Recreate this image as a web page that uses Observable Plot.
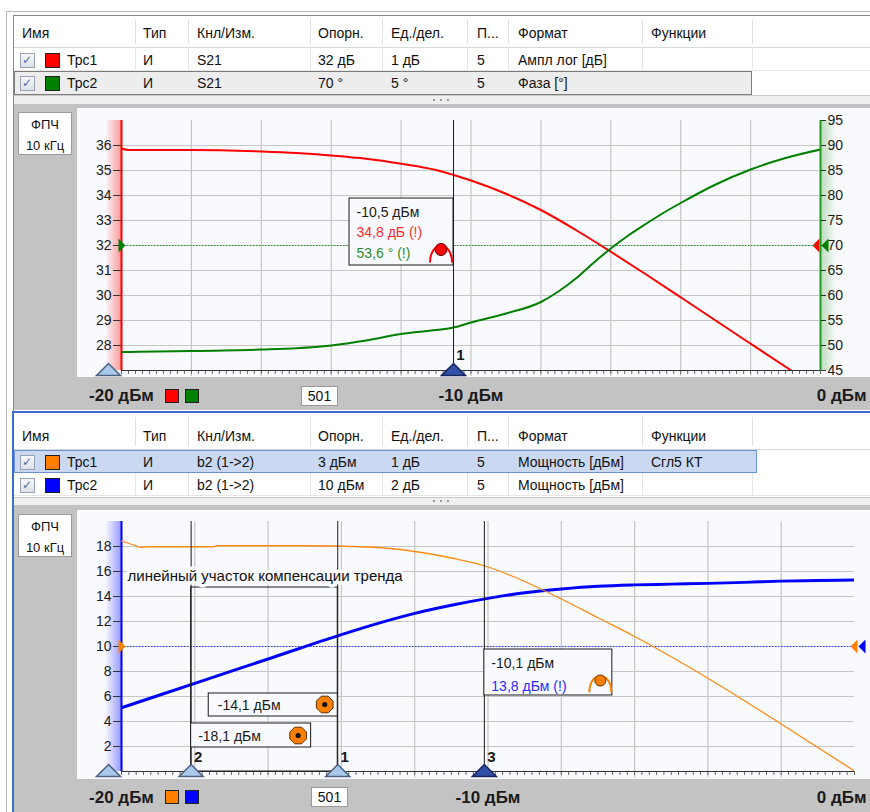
<!DOCTYPE html>
<html>
<head>
<meta charset="utf-8">
<script src="https://cdn.jsdelivr.net/npm/d3@7"></script>
<script src="https://cdn.jsdelivr.net/npm/@observablehq/plot@0.6"></script>
<style>
  html,body{margin:0;padding:0;background:#fff;}
  #root{position:relative;width:870px;height:812px;overflow:hidden;font-family:"Liberation Sans",Arial,sans-serif;color:#111;}
  #root div{position:absolute;box-sizing:border-box;}
  .t{font-size:14px;white-space:nowrap;line-height:18px;height:18px;}
</style>
</head>
<body>
<div id="root"></div>
<script>
// ================= DATA =================
const xDomain = [-20, 0];                         // stimulus power, dBm
const gridX = [-18, -16, -14, -12, -10, -8, -6, -4, -2];
const xAxisLabels = [-20, -10, 0];
const pointsCount = "501";
const ifbw = ["ФПЧ", "10 кГц"];
const tableHeaders = ["Имя", "Тип", "Кнл/Изм.", "Опорн.", "Ед./дел.", "П...", "Формат", "Функции"];

// ---- channel 1 (top) trace table ----
const ch1Names = ["Трс1", "Трс2"];
const ch1Colors = ["#ff0000", "#008000"];
const ch1Type = ["И", "И"];
const ch1Meas = ["S21", "S21"];
const ch1RefText = ["32 дБ", "70 °"];
const ch1ScaleText = ["1 дБ", "5 °"];
const ch1PosText = ["5", "5"];
const ch1Format = ["Ампл лог [дБ]", "Фаза [°]"];
const ch1Func = ["", ""];
const ch1Ref = [32, 70];
const ch1Scale = [1, 5];
const ch1LeftTicks = [28, 29, 30, 31, 32, 33, 34, 35, 36];
const ch1RightTicks = [45, 50, 55, 60, 65, 70, 75, 80, 85, 90, 95];

// Trc1: S21 log magnitude, dB
const trc1X = [-20, -19.8, -18, -16, -15, -14, -13, -12, -11, -10.5, -10, -9, -8, -7, -6, -5, -4, -3, -2, -1, 0];
const trc1Y = [35.88, 35.82, 35.82, 35.76, 35.7, 35.6, 35.47, 35.27, 35.02, 34.82, 34.6, 34.07, 33.42, 32.62, 31.75, 30.85, 29.93, 29.0, 28.07, 27.15, 26.25];
// Trc2: S21 phase, degrees
const trc2X = [-20, -19.5, -18, -16, -15, -14, -13, -12, -11, -10.5, -10, -9, -8, -7.5, -7, -6.5, -6, -5.5, -5, -4.5, -4, -3, -2, -1, 0];
const trc2Y = [48.7, 48.75, 48.9, 49.2, 49.45, 50.0, 51.0, 52.3, 53.1, 53.6, 54.6, 56.4, 58.7, 60.8, 63.4, 66.5, 69.4, 72.0, 74.3, 76.5, 78.5, 82.2, 85.2, 87.5, 89.2];

const ch1Markers = [{id: "1", x: -10.5, active: true}];
const ch1Readout = ["-10,5 дБм", "34,8 дБ (!)", "53,6 ° (!)"];

// ---- channel 2 (bottom) trace table ----
const ch2Names = ["Трс1", "Трс2"];
const ch2Colors = ["#ff8000", "#0000ff"];
const ch2Type = ["И", "И"];
const ch2Meas = ["b2 (1->2)", "b2 (1->2)"];
const ch2RefText = ["3 дБм", "10 дБм"];
const ch2ScaleText = ["1 дБ", "2 дБ"];
const ch2PosText = ["5", "5"];
const ch2Format = ["Мощность [дБм]", "Мощность [дБм]"];
const ch2Func = ["Сгл5 КТ", ""];
const ch2Ref = [3, 10];
const ch2Scale = [1, 2];
const ch2LeftTicks = [2, 4, 6, 8, 10, 12, 14, 16, 18];

// Trc1 (orange): b2 power, dBm (own scale)
const trc3X = [-20, -19.65, -19.45, -19.3, -17.5, -17.4, -15, -13.3, -12, -11, -10.1, -9.2, -8, -7, -6, -4, -2, 0];
const trc3Y = [7.22, 7.05, 6.96, 6.99, 6.99, 7.03, 7.03, 6.98, 6.8, 6.54, 6.23, 5.73, 4.9, 4.15, 3.4, 1.73, -0.1, -1.98];
// Trc2 (blue): b2 power, dBm
const trc4X = [-20, -18, -16, -14, -13, -12, -11, -10, -9, -8, -7, -6, -5, -4, -3, -2, -1, 0];
const trc4Y = [5.1, 7.05, 9.0, 10.95, 11.85, 12.65, 13.3, 13.85, 14.3, 14.6, 14.82, 14.93, 14.99, 15.05, 15.13, 15.23, 15.28, 15.32];

const ch2Markers = [
  {id: "2", x: -18.1, active: false},
  {id: "1", x: -14.1, active: false},
  {id: "3", x: -10.1, active: true}
];
const ch2Readouts = {"1": ["-14,1 дБм"], "2": ["-18,1 дБм"], "3": ["-10,1 дБм", "13,8 дБм (!)"]};
const trendLabel = "линейный участок компенсации тренда";
const trendSpan = ["2", "1"];

// ================= LAYOUT / STYLE =================
const root = document.getElementById("root");
const px = v => v + "px";
function div(x, y, w, h, extra = {}) {
  const d = document.createElement("div");
  Object.assign(d.style, {left: px(x), top: px(y), width: px(w), height: px(h)}, extra);
  root.appendChild(d);
  return d;
}
function label(x, yc, s, extra = {}) {
  const d = document.createElement("div");
  d.className = "t";
  Object.assign(d.style, {left: px(x), top: px(yc - 9)}, extra);
  d.textContent = s;
  root.appendChild(d);
  return d;
}
const plotBg = "#f9fafd";
const panelGray = "#c3c3c3";
const gridColor = "#c6c6c6";
const font = "'Liberation Sans', Arial, sans-serif";

// window frame
div(6, 11, 864, 801, {borderLeft: "1px solid #b8b8b8", borderTop: "1px solid #b8b8b8"});
div(13, 15, 857, 396, {borderLeft: "1px solid #8a8a8a", borderTop: "1px solid #8a8a8a"});

const colSep = [135, 188, 310, 382, 467, 508, 642, 752];
const colText = [143, 197, 318, 391, 477, 518, 651];

function table(t) {
  colSep.forEach(x => div(x, t.top + 3, 1, t.headerLine - t.top - 6, {background: "#e2e2e2"}));
  div(14, t.headerLine, 856, 1, {background: "#d9d9d9"});
  label(22, t.headerC, tableHeaders[0]);
  tableHeaders.slice(1).forEach((h, i) => label(colText[i], t.headerC, h));
  t.rows.forEach((r, i) => {
    const sel = i === t.selected;
    if (sel) {
      div(14, r.top, t.selW, r.h, {background: t.selBg, border: "1px solid " + t.selBorder});
      colSep.filter(x => x > t.selW + 14).forEach(x => div(x, r.top, 1, r.h, {background: "#e6e6e6"}));
    } else {
      colSep.forEach(x => div(x, r.top, 1, r.h, {background: "#e6e6e6"}));
      div(14, r.top + r.h - 1, 856, 1, {background: "#e6e6e6"});
    }
    const c = r.top + r.h / 2;
    div(20, c - 7, 15, 15, {border: "1px solid #98a2b3", background: "linear-gradient(#f6f7f9,#dde1e8)"});
    label(22, c, "✓", {fontSize: "12px", color: "#4a68a8", fontFamily: "DejaVu Sans"});
    div(45, c - 7, 15, 15, {background: t.colors[i], border: "1px solid #202020"});
    label(67, c, t.names[i]);
    const vals = [t.type[i], t.meas[i], t.ref[i], t.scale[i], t.pos[i], t.format[i], t.func[i]];
    vals.forEach((v, k) => label(colText[k], c, v));
  });
  div(14, t.stripTop, 856, t.stripH, {background: "#efefef", borderTop: "1px solid #cacaca"});
  [433, 440, 447].forEach(x => div(x, t.stripTop + t.stripH / 2 - 1, 2, 2, {background: "#9a9a9a"}));
}

// ----- top table -----
table({
  top: 16, headerC: 33, headerLine: 47,
  rows: [{top: 48, h: 23}, {top: 71, h: 24}], selected: 1, selW: 738,
  selBg: "#ededed", selBorder: "#7c7c7c",
  names: ch1Names, colors: ch1Colors, type: ch1Type, meas: ch1Meas, ref: ch1RefText,
  scale: ch1ScaleText, pos: ch1PosText, format: ch1Format, func: ch1Func,
  stripTop: 95, stripH: 9
});

// ----- top chart panel -----
div(14, 104, 856, 306, {background: panelGray});
div(77, 108, 793, 269, {background: plotBg});
div(18, 112, 54, 43, {background: "#fff", border: "1px solid #9c9c9c"});
label(18, 125, ifbw[0], {width: "54px", textAlign: "center", fontSize: "13px"});
label(18, 146, ifbw[1], {width: "54px", textAlign: "center", fontSize: "13px"});

// ----- bottom (active) panel -----
div(12, 411, 858, 2, {background: "#3d6fcf"});
div(12, 411, 2, 401, {background: "#3d6fcf"});
table({
  top: 414, headerC: 436, headerLine: 449,
  rows: [{top: 450, h: 23}, {top: 473, h: 23}], selected: 0, selW: 743,
  selBg: "#cad8f1", selBorder: "#6f8fd3",
  names: ch2Names, colors: ch2Colors, type: ch2Type, meas: ch2Meas, ref: ch2RefText,
  scale: ch2ScaleText, pos: ch2PosText, format: ch2Format, func: ch2Func,
  stripTop: 497, stripH: 8
});
div(14, 505, 856, 307, {background: panelGray});
div(77, 510, 793, 269, {background: plotBg});
div(18, 514, 54, 43, {background: "#fff", border: "1px solid #9c9c9c"});
label(18, 527, ifbw[0], {width: "54px", textAlign: "center", fontSize: "13px"});
label(18, 548, ifbw[1], {width: "54px", textAlign: "center", fontSize: "13px"});

// ================= PLOTS =================
const sym = draw => ({draw});
const triUp = sym(c => { c.moveTo(0, -6); c.lineTo(12, 6); c.lineTo(-12, 6); c.closePath(); });
const triRight = sym(c => { c.moveTo(4, 0); c.lineTo(-3, -7); c.lineTo(-3, 7); c.closePath(); });
const triLeft = sym(c => { c.moveTo(-4, 0); c.lineTo(3, -7); c.lineTo(3, 7); c.closePath(); });
const archSym = sym(c => { c.moveTo(-11, 8); c.bezierCurveTo(-11, -14, 11, -14, 11, 8); });
const octSym = sym(c => {
  for (let i = 0; i < 8; i++) {
    const a = Math.PI / 8 + i * Math.PI / 4, X = 9 * Math.cos(a), Y = 9 * Math.sin(a);
    if (i) c.lineTo(X, Y); else c.moveTo(X, Y);
  }
  c.closePath();
});
const st = {background: "transparent", fontFamily: font, fontSize: "14px", overflow: "visible", color: "#1a1a1a"};
const zip = (X, Y) => X.map((x, i) => ({x, y: Y[i]}));
const domainOf = (ref, scale) => [ref - 5 * scale, ref + 5 * scale];
const minorTicks = d3.range(xDomain[0], xDomain[1] + 1e-9, 0.2);
const fmtX = d => `${d} дБм`;
const MID = {lineAnchor: "middle"};
const markerMarks = (markers, dyLabel) => [
  Plot.dot([xDomain[0]], {x: d => d, frameAnchor: "bottom", symbol: triUp, r: 6, fill: "#a9c8ea", stroke: "#4d5f80", dx: -13, dy: -1}),
  Plot.dot(markers.filter(m => !m.active), {x: "x", frameAnchor: "bottom", symbol: triUp, r: 6, fill: "#a9c8ea", stroke: "#4d5f80", dy: -1}),
  Plot.dot(markers.filter(m => m.active), {x: "x", frameAnchor: "bottom", symbol: triUp, r: 6, fill: "#2f4fa8", stroke: "#17245c", dy: -1}),
  Plot.text(markers, {x: "x", text: "id", frameAnchor: "bottom", ...MID, dx: 7, dy: dyLabel, fontWeight: "bold", fontSize: 15, fill: "#1a1a1a"})
];

// ---------- top chart ----------
const topDims = {width: 793, height: 302, marginLeft: 44, marginRight: 50, marginTop: 12, marginBottom: 40};
const dom1 = domainOf(ch1Ref[0], ch1Scale[0]);
const dom2 = domainOf(ch1Ref[1], ch1Scale[1]);

const plotA = Plot.plot({
  ...topDims, style: st,
  x: {domain: xDomain},
  y: {domain: dom1},
  marks: [
    Plot.ruleX(gridX, {stroke: gridColor, strokeWidth: 1.2}),
    Plot.ruleY(ch1LeftTicks, {stroke: gridColor, strokeWidth: 1.2}),
    Plot.axisX(gridX, {tickSize: 6, stroke: gridColor, strokeWidth: 1.2, fill: "none", label: null}),
    Plot.axisX(minorTicks, {tickSize: 4, stroke: "#666", fill: "none", label: null}),
    Plot.ruleY([dom1[0]], {stroke: "#333"}),
    Plot.axisY(ch1LeftTicks, {tickSize: 8, tickPadding: 2, stroke: "#333", fill: "#1a1a1a", label: null, fontSize: 14}),
    Plot.line(zip(trc1X, trc1Y), {x: "x", y: "y", stroke: ch1Colors[0], strokeWidth: 2, curve: "monotone-x", clip: true}),
    Plot.ruleX([xDomain[0]], {stroke: ch1Colors[0], strokeWidth: 2}),
    Plot.dot([{x: xDomain[1], y: ch1Ref[0]}], {x: "x", y: "y", symbol: triLeft, r: 6, fill: ch1Colors[0], dx: -4}),
    Plot.text(xAxisLabels.slice(0, 2), {x: d => d, text: fmtX, frameAnchor: "bottom", ...MID, dy: 25, fontSize: 17, fontWeight: "bold", fill: "#1a1a1a"}),
    Plot.text(xAxisLabels.slice(2), {x: d => d, text: fmtX, frameAnchor: "bottom", ...MID, dy: 25, dx: 46, textAnchor: "end", fontSize: 17, fontWeight: "bold", fill: "#1a1a1a"})
  ]
});

const plotB = Plot.plot({
  ...topDims, style: st,
  x: {domain: xDomain, axis: null},
  y: {domain: dom2},
  marks: [
    Plot.ruleY([ch1Ref[1]], {stroke: "#2f8f2f", strokeDasharray: "1.5,1.5"}),
    Plot.line(zip(trc2X, trc2Y), {x: "x", y: "y", stroke: ch1Colors[1], strokeWidth: 2, curve: "monotone-x", clip: true}),
    Plot.ruleX([xDomain[1]], {stroke: "#1f9a1f", strokeWidth: 2}),
    Plot.axisY(ch1RightTicks, {anchor: "right", tickSize: 5, tickPadding: 2, stroke: "#333", fill: "#1a1a1a", label: null, fontSize: 14}),
    Plot.dot([{x: xDomain[0], y: ch1Ref[1]}], {x: "x", y: "y", symbol: triRight, r: 6, fill: ch1Colors[1]}),
    Plot.dot([{x: xDomain[1], y: ch1Ref[1]}], {x: "x", y: "y", symbol: triLeft, r: 6, fill: ch1Colors[1], dx: 5}),
    Plot.ruleX(ch1Markers, {x: "x", stroke: "#1a1a1a"}),
    Plot.rect(ch1Markers, {x1: d => d.x, x2: d => d.x, insetLeft: -104, insetRight: 0, insetTop: 78, insetBottom: 105, fill: plotBg, stroke: "#1a1a1a"}),
    Plot.text(ch1Markers, {x: "x", frameAnchor: "top", ...MID, text: () => ch1Readout[0], dx: -97, dy: 92, textAnchor: "start", fontSize: 14, fill: "#1a1a1a"}),
    Plot.text(ch1Markers, {x: "x", frameAnchor: "top", ...MID, text: () => ch1Readout[1], dx: -97, dy: 112, textAnchor: "start", fontSize: 14, fill: "#ff2a2a"}),
    Plot.text(ch1Markers, {x: "x", frameAnchor: "top", ...MID, text: () => ch1Readout[2], dx: -97, dy: 133, textAnchor: "start", fontSize: 14, fill: "#2c8c2c"}),
    Plot.dot(ch1Markers, {x: "x", frameAnchor: "top", dx: -12.5, dy: 134, symbol: archSym, r: 6, fill: "none", stroke: "#ff0000", strokeWidth: 2}),
    Plot.dot(ch1Markers, {x: "x", frameAnchor: "top", dx: -12.5, dy: 129, r: 6, fill: "#ff0000", stroke: "#5a0000", strokeWidth: 1}),
    ...markerMarks(ch1Markers, -15)
  ]
});

// ---------- bottom chart ----------
const botDims = {width: 793, height: 304, marginLeft: 44, marginRight: 16, marginTop: 13, marginBottom: 41};
const dom3 = domainOf(ch2Ref[0], ch2Scale[0]);   // orange
const dom4 = domainOf(ch2Ref[1], ch2Scale[1]);   // blue
const frameH2 = botDims.height - botDims.marginTop - botDims.marginBottom;

const plotC = Plot.plot({
  ...botDims, style: st,
  x: {domain: xDomain},
  y: {domain: dom4},
  marks: [
    Plot.ruleX(gridX, {stroke: gridColor, strokeWidth: 1.2}),
    Plot.ruleY(ch2LeftTicks, {stroke: gridColor, strokeWidth: 1.2}),
    Plot.axisX(gridX, {tickSize: 6, stroke: gridColor, strokeWidth: 1.2, fill: "none", label: null}),
    Plot.axisX(minorTicks, {tickSize: 4, stroke: "#666", fill: "none", label: null}),
    Plot.ruleY([dom4[0]], {stroke: "#333"}),
    Plot.axisY(ch2LeftTicks, {tickSize: 8, tickPadding: 2, stroke: "#333", fill: "#1a1a1a", label: null, fontSize: 14}),
    Plot.ruleY([ch2Ref[1]], {stroke: "#3b3bff", strokeDasharray: "1.5,1.5"}),
    Plot.line(zip(trc4X, trc4Y), {x: "x", y: "y", stroke: ch2Colors[1], strokeWidth: 3, curve: "monotone-x", clip: true}),
    Plot.ruleX([xDomain[0]], {stroke: ch2Colors[1], strokeWidth: 2}),
    Plot.dot([{x: xDomain[1], y: ch2Ref[1]}], {x: "x", y: "y", symbol: triLeft, r: 6, fill: ch2Colors[1], dx: 8}),
    Plot.text(xAxisLabels.slice(0, 2), {x: d => d, text: fmtX, frameAnchor: "bottom", ...MID, dy: 26, fontSize: 17, fontWeight: "bold", fill: "#1a1a1a"}),
    Plot.text(xAxisLabels.slice(2), {x: d => d, text: fmtX, frameAnchor: "bottom", ...MID, dy: 26, dx: 12, textAnchor: "end", fontSize: 17, fontWeight: "bold", fill: "#1a1a1a"})
  ]
});

const readoutLayout = {
  "1": {side: -1, w: 129, top: 172, h: 23, textDx: -120, textDy: [184], iconDx: -13, iconDy: 183, icon: "oct"},
  "2": {side: 1, w: 120, top: 202, h: 24, textDx: 7, textDy: [215], iconDx: 107, iconDy: 214, icon: "oct"},
  "3": {side: 1, w: 128, top: 128, h: 46, textDx: 7, textDy: [142, 165], iconDx: 116, iconDy: 159, icon: "arch"}
};
const readoutColors = ["#1a1a1a", "#2b2bff"];
const mById = id => ch2Markers.find(m => m.id === id);

const readoutMarks = ch2Markers.flatMap(m => {
  const L = readoutLayout[m.id];
  const data = [m];
  const marks = [
    Plot.rect(data, {x1: d => d.x, x2: d => d.x,
      insetLeft: L.side < 0 ? -L.w : 0, insetRight: L.side > 0 ? -L.w : 0,
      insetTop: L.top, insetBottom: frameH2 - L.top - L.h, fill: plotBg, stroke: "#1a1a1a"}),
    ...ch2Readouts[m.id].map((s, k) => Plot.text(data, {x: "x", frameAnchor: "top", ...MID, text: () => s, dx: L.textDx, dy: L.textDy[k], textAnchor: "start", fontSize: 14, fill: readoutColors[k]}))
  ];
  if (L.icon === "oct") {
    marks.push(Plot.dot(data, {x: "x", frameAnchor: "top", dx: L.iconDx, dy: L.iconDy, symbol: octSym, r: 6, fill: ch2Colors[0], stroke: "#5a2e00", strokeWidth: 1}));
    marks.push(Plot.dot(data, {x: "x", frameAnchor: "top", dx: L.iconDx, dy: L.iconDy, r: 2.6, fill: "#111"}));
  } else {
    marks.push(Plot.dot(data, {x: "x", frameAnchor: "top", dx: L.iconDx, dy: L.iconDy + 4, symbol: archSym, r: 6, fill: "none", stroke: ch2Colors[0], strokeWidth: 2}));
    marks.push(Plot.dot(data, {x: "x", frameAnchor: "top", dx: L.iconDx, dy: L.iconDy, r: 5.5, fill: ch2Colors[0], stroke: "#5a2e00", strokeWidth: 1}));
  }
  return marks;
});

const plotD = Plot.plot({
  ...botDims, style: st,
  x: {domain: xDomain, axis: null},
  y: {domain: dom3, axis: null},
  marks: [
    Plot.line(zip(trc3X, trc3Y), {x: "x", y: "y", stroke: "#ff8a10", strokeWidth: 1.3, curve: "monotone-x", clip: true}),
    Plot.dot([{x: xDomain[0], y: ch2Ref[0]}], {x: "x", y: "y", symbol: triRight, r: 6, fill: ch2Colors[0]}),
    Plot.dot([{x: xDomain[1], y: ch2Ref[0]}], {x: "x", y: "y", symbol: triLeft, r: 6, fill: ch2Colors[0]}),
    Plot.ruleX(ch2Markers, {x: "x", stroke: "#1a1a1a"}),
    Plot.rect([trendSpan], {x1: d => mById(d[0]).x, x2: d => mById(d[1]).x, insetTop: 66, fill: "none", stroke: "#1a1a1a"}),
    Plot.text([trendLabel], {x: () => xDomain[0], frameAnchor: "top", ...MID, text: d => d, dx: 6, dy: 55, textAnchor: "start", fontSize: 15, fill: "#111", stroke: plotBg, strokeWidth: 7}),
    ...readoutMarks,
    ...markerMarks(ch2Markers, -14)
  ]
});

// ---------- axis gradients (positioned via Plot scales) ----------
function gradient(plot, ox, oy, xv, yDom, side, rgb) {
  const sx = plot.scale("x"), sy = plot.scale("y");
  const x = ox + sx.apply(xv), y1 = oy + sy.apply(yDom[1]), y2 = oy + sy.apply(yDom[0]);
  const w = 16;
  const g = side < 0
    ? `linear-gradient(to right, rgba(${rgb},0), rgba(${rgb},0.45))`
    : `linear-gradient(to right, rgba(${rgb},0.35), rgba(${rgb},0))`;
  div(side < 0 ? x - w : x, y1, w, y2 - y1, {background: g});
}
gradient(plotA, 77, 108, xDomain[0], dom1, -1, "255,40,40");
gradient(plotB, 77, 108, xDomain[1], dom2, 1, "60,160,60");
gradient(plotC, 77, 508, xDomain[0], dom4, -1, "40,40,255");

function place(svg, x, y) {
  svg.style.position = "absolute";
  svg.style.left = px(x);
  svg.style.top = px(y);
  root.appendChild(svg);
}
place(plotA, 77, 108);
place(plotB, 77, 108);
place(plotC, 77, 508);
place(plotD, 77, 508);

// ---------- status widgets under the charts ----------
function statusRow(yTop, colors, boxX) {
  div(165, yTop, 14, 14, {background: colors[0], border: "1px solid #202020"});
  div(185, yTop, 14, 14, {background: colors[1], border: "1px solid #202020"});
  div(boxX, yTop - 3, 37, 20, {background: "#fff", border: "1px solid #9a9a9a"});
  label(boxX, yTop + 7, pointsCount, {width: "37px", textAlign: "center", fontSize: "14px"});
}
statusRow(389, ch1Colors, 301);
statusRow(790, ch2Colors, 311);
</script>
</body>
</html>
